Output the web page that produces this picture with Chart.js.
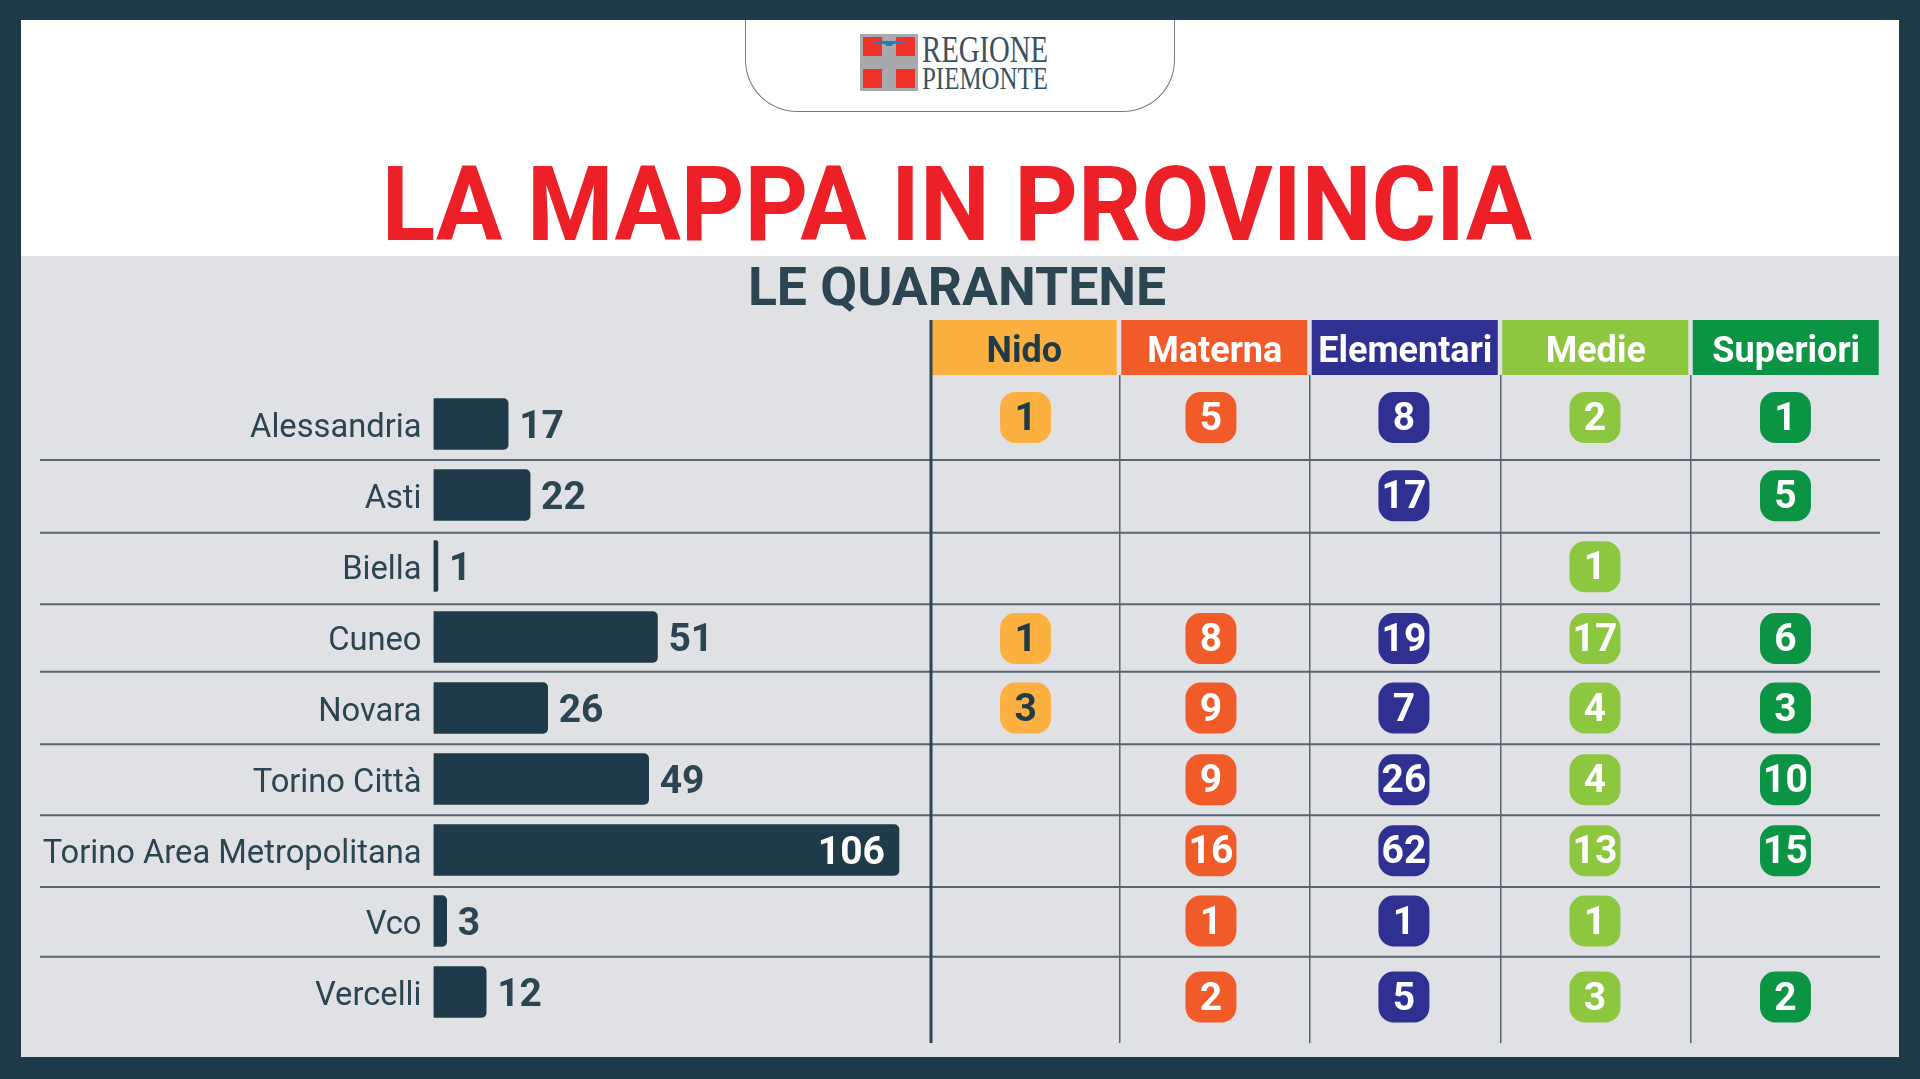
<!DOCTYPE html>
<html lang="it">
<head>
<meta charset="utf-8">
<title>La mappa in provincia</title>
<script src="https://cdn.jsdelivr.net/npm/chart.js@4"></script>
<style>
    html, body { margin: 0; padding: 0; background: #1f3b49; overflow: hidden; }
    #page { position: relative; width: 1920px; height: 1079px; font-family: Roboto, sans-serif; }
    #top { position: absolute; left: 21px; top: 20px; width: 1878px; height: 236px; background: #fff; }
    #body { position: absolute; left: 21px; top: 256px; width: 1878px; height: 801px; background: #dfe1e5; }
    #tab { position: absolute; left: 745px; top: 20px; width: 430px; height: 92px; box-sizing: border-box;
           border: 1.5px solid #6d7b82; border-top: 0; border-radius: 0 0 52px 52px; background: #fff; }
    #logo { position: absolute; left: 860px; top: 34px; }
    h1, h2 { position: absolute; left: 0; width: 1914px; margin: 0; text-align: center; font-weight: 700; white-space: nowrap; }
    h1 { top: 145px; font-size: 104px; line-height: 120px; color: #ed2027; transform: scaleX(0.95); }
    h2 { top: 257px; font-size: 53.5px; line-height: 60px; color: #2b4553; }
    canvas { position: absolute; left: 0; top: 0; }
</style>
</head>
<body>
<div id="page">
    <div id="top"></div>
    <div id="body"></div>
    <div id="tab"></div>
    <svg id="logo" width="190" height="60" viewBox="0 0 190 60">
        <rect x="0" y="0" width="58" height="57" fill="#a7a9ac"/>
        <rect x="3" y="3" width="19" height="19" fill="#ee3129"/>
        <rect x="36" y="3" width="19" height="19" fill="#ee3129"/>
        <rect x="3" y="35" width="19" height="19" fill="#ee3129"/>
        <rect x="36" y="35" width="19" height="19" fill="#ee3129"/>
        <path d="M13 9 Q16 6 26 7 L32 7 Q42 6 45 9 L42 10 L33 10 L32 12 L26 12 L25 10 L16 10 Z" fill="#2b7bb9"/>
        <text x="62" y="27.5" font-family="Liberation Serif" font-size="37" fill="#3a5160" textLength="126" lengthAdjust="spacingAndGlyphs">REGIONE</text>
        <text x="62" y="55" font-family="Liberation Serif" font-size="32" fill="#3a5160" textLength="126" lengthAdjust="spacingAndGlyphs">PIEMONTE</text>
    </svg>
    <h1>LA MAPPA IN PROVINCIA</h1>
    <h2>LE QUARANTENE</h2>
    <canvas id="bars" width="1920" height="1079"></canvas>
    <canvas id="cells" width="1920" height="1079"></canvas>
</div>
<script>
document.addEventListener("DOMContentLoaded", function() {
    const dark = '#1f3b49';
    const textColor = '#2b4553';

    // Quarantined classes per province and school level (total = sum of the levels)
    const rows = [
        { name: 'Alessandria', total: 17, nido: 1, materna: 5, elementari: 8, medie: 2, superiori: 1 },
        { name: 'Asti', total: 22, elementari: 17, superiori: 5 },
        { name: 'Biella', total: 1, medie: 1 },
        { name: 'Cuneo', total: 51, nido: 1, materna: 8, elementari: 19, medie: 17, superiori: 6 },
        { name: 'Novara', total: 26, nido: 3, materna: 9, elementari: 7, medie: 4, superiori: 3 },
        { name: 'Torino Città', total: 49, materna: 9, elementari: 26, medie: 4, superiori: 10 },
        { name: 'Torino Area Metropolitana', total: 106, materna: 16, elementari: 62, medie: 13, superiori: 15 },
        { name: 'Vco', total: 3, materna: 1, elementari: 1, medie: 1 },
        { name: 'Vercelli', total: 12, materna: 2, elementari: 5, medie: 3, superiori: 2 }
    ];

    // col = where the badges of the level sit, in column units
    const levels = [
        { key: 'nido', label: 'Nido', color: '#fbb040', text: dark, col: 0.007 },
        { key: 'materna', label: 'Materna', color: '#f15a29', text: '#fff', col: 0.98 },
        { key: 'elementari', label: 'Elementari', color: '#2e3192', text: '#fff', col: 1.993 },
        { key: 'medie', label: 'Medie', color: '#8dc63f', text: '#fff', col: 2.996 },
        { key: 'superiori', label: 'Superiori', color: '#0a9444', text: '#fff', col: 3.996 }
    ];

    // The badges and the row rules do not sit exactly on the row grid in the original
    const badgeRow = [-0.09, 1.01, 2.01, 3.02, 4, 5.01, 6.01, 7, 8.07];
    const rowRules = [0.507, 1.531, 2.539, 3.489, 4.511, 5.511, 6.521, 7.503];

    // Left chart: total per province
    const totalLabels = {
        id: 'totalLabels',
        afterDatasetsDraw(chart) {
            const ctx = chart.ctx;
            ctx.save();
            ctx.font = '700 39px Roboto';
            ctx.textBaseline = 'middle';
            chart.getDatasetMeta(0).data.forEach((bar, i) => {
                const value = rows[i].total;
                if (value > 100) {
                    ctx.fillStyle = '#fff';
                    ctx.textAlign = 'right';
                    ctx.fillText(value, bar.x - 14, bar.y + 4.5);
                } else {
                    ctx.fillStyle = textColor;
                    ctx.textAlign = 'left';
                    ctx.fillText(value, bar.x + 11, bar.y + 4.5);
                }
            });
            ctx.restore();
        }
    };

    new Chart(document.getElementById('bars').getContext('2d'), {
        type: 'bar',
        data: {
            labels: rows.map(r => r.name),
            datasets: [{
                data: rows.map(r => r.total),
                backgroundColor: dark,
                barThickness: 51,
                borderRadius: { topRight: 5, bottomRight: 5 },
                borderSkipped: false
            }]
        },
        options: {
            indexAxis: 'y',
            responsive: false,
            animation: false,
            layout: { padding: { top: 388.5, bottom: 51.5, right: 989 } },
            plugins: { legend: { display: false }, tooltip: { enabled: false } },
            scales: {
                x: { display: false, min: 0, max: 113.3 },
                y: {
                    grid: { display: false, drawTicks: false },
                    border: { display: false },
                    ticks: {
                        color: textColor,
                        font: { family: 'Roboto', size: 32.7 },
                        padding: 12,
                        labelOffset: 4.5
                    },
                    afterFit(scale) { scale.width = 433.5; }
                }
            }
        },
        plugins: [totalLabels]
    });

    // Right chart: one badge per province and school level
    const tableParts = {
        id: 'tableParts',
        beforeDraw(chart) {
            const ctx = chart.ctx;
            const x = chart.scales.x;
            const y = chart.scales.y;
            ctx.save();
            levels.forEach((level, i) => {
                ctx.fillStyle = level.color;
                ctx.fillRect(x.getPixelForValue(i) - 93.5, 320, 186, 55);
            });
            ctx.strokeStyle = '#56656f';
            ctx.lineWidth = 2;
            rowRules.forEach(r => {
                ctx.beginPath();
                ctx.moveTo(40, y.getPixelForValue(r));
                ctx.lineTo(1880, y.getPixelForValue(r));
                ctx.stroke();
            });
            ctx.strokeStyle = '#2f4553';
            ctx.lineWidth = 3;
            ctx.beginPath();
            ctx.moveTo(931, 320);
            ctx.lineTo(931, chart.chartArea.bottom);
            ctx.stroke();
            ctx.restore();
        },
        afterDatasetsDraw(chart) {
            const ctx = chart.ctx;
            ctx.save();
            ctx.font = '700 39px Roboto';
            ctx.textAlign = 'center';
            ctx.textBaseline = 'middle';
            chart.data.datasets.forEach((dataset, d) => {
                ctx.fillStyle = levels[d].text;
                chart.getDatasetMeta(d).data.forEach((point, i) => {
                    ctx.fillText(dataset.data[i].value, point.x, point.y + 3);
                });
            });
            ctx.restore();
        }
    };

    new Chart(document.getElementById('cells').getContext('2d'), {
        type: 'scatter',
        data: {
            datasets: levels.map(level => ({
                label: level.label,
                xAxisID: 'badgeX',
                data: rows
                    .map((r, i) => ({ x: level.col, y: badgeRow[i], value: r[level.key] }))
                    .filter(p => p.value),
                backgroundColor: level.color,
                pointStyle: 'rectRounded',
                pointRadius: 29.7,
                borderWidth: 0
            }))
        },
        options: {
            responsive: false,
            animation: false,
            layout: { padding: { left: 929, right: 38.5, top: 320, bottom: 36 } },
            plugins: { legend: { display: false }, tooltip: { enabled: false } },
            scales: {
                x: {
                    type: 'category',
                    position: 'top',
                    labels: levels.map(l => l.label),
                    offset: true,
                    grid: {
                        offset: true,
                        drawTicks: false,
                        lineWidth: 1.5,
                        color: ctx => (ctx.index > 0 ? '#56656f' : 'transparent')
                    },
                    border: { display: false },
                    ticks: {
                        maxRotation: 0,
                        font: { family: 'Roboto', size: 36, weight: '700' },
                        color: ctx => levels[ctx.index].text,
                        padding: 0
                    },
                    afterFit(scale) { scale.height = 55; }
                },
                badgeX: { type: 'linear', display: false, min: -0.5, max: 4.5 },
                y: { display: false, reverse: true, min: -0.69, max: 8.718 }
            }
        },
        plugins: [tableParts]
    });
});
</script>
</body>
</html>
